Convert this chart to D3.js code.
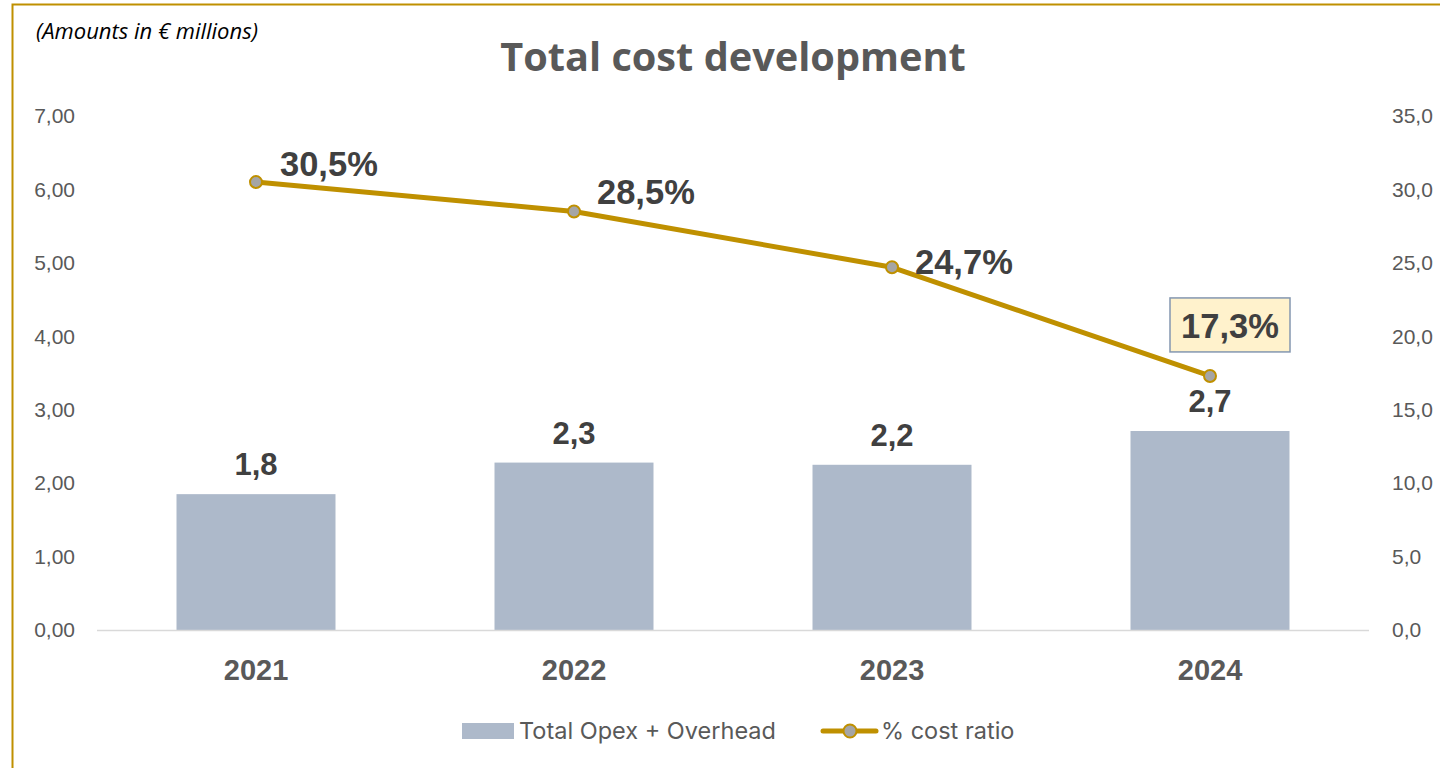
<!DOCTYPE html>
<html>
<head>
<meta charset="utf-8">
<script src="https://cdn.jsdelivr.net/npm/d3@7"></script>
<style>
  body { margin: 0; background: #fff; }
  svg { display: block; }
</style>
</head>
<body>
<script>
// chart data
var years = ["2021", "2022", "2023", "2024"];
var opex = [1.85, 2.28, 2.25, 2.71];
var opexLabels = ["1,8", "2,3", "2,2", "2,7"];
var costRatio = [30.5, 28.5, 24.7, 17.3];
var ratioLabels = ["30,5%", "28,5%", "24,7%", "17,3%"];
var leftTicks = [0, 1, 2, 3, 4, 5, 6, 7];
var rightTicks = [0, 5, 10, 15, 20, 25, 30, 35];

var width = 1440,
    height = 768;

var gold = "#BF9000",
    barColor = "#ADB9CA",
    textGray = "#595959",
    labelDark = "#404040";

var svg = d3.select("body").append("svg")
    .attr("width", width)
    .attr("height", height);

// outer border (right and bottom run off the picture)
svg.append("rect")
    .attr("x", 12.5).attr("y", 4.5)
    .attr("width", 1460).attr("height", 800)
    .attr("fill", "none")
    .attr("stroke", gold)
    .attr("stroke-width", 2);

svg.append("text")
    .attr("x", 36).attr("y", 39)
    .attr("font-family", "'Open Sans', sans-serif")
    .attr("font-style", "italic")
    .attr("font-size", 22)
    .attr("fill", "#000")
    .text("(Amounts in € millions)");

svg.append("text")
    .attr("x", 733).attr("y", 71)
    .attr("text-anchor", "middle")
    .attr("font-family", "'Open Sans', sans-serif")
    .attr("font-weight", "bold")
    .attr("font-size", 39.7)
    .attr("fill", textGray)
    .text("Total cost development");

var x = d3.scaleBand().domain(years).range([97, 1369]).paddingInner(0.5).paddingOuter(0.25);
var yL = d3.scaleLinear().domain([0, 7]).range([630, 116]);
var yR = d3.scaleLinear().domain([0, 35]).range([630, 116]);

// left axis
var leftAxis = svg.append("g")
    .attr("transform", "translate(75,0)")
    .call(d3.axisLeft(yL).tickValues(leftTicks).tickSize(0).tickPadding(0)
        .tickFormat(function(d) { return d3.format(".2f")(d).replace(".", ","); }));
leftAxis.select(".domain").remove();
leftAxis.selectAll("text")
    .attr("font-family", "'Liberation Sans', Arial, sans-serif")
    .attr("font-size", 21)
    .attr("fill", textGray);

// right axis
var rightAxis = svg.append("g")
    .attr("transform", "translate(1392,0)")
    .call(d3.axisRight(yR).tickValues(rightTicks).tickSize(0).tickPadding(0)
        .tickFormat(function(d) { return d3.format(".1f")(d).replace(".", ","); }));
rightAxis.select(".domain").remove();
rightAxis.selectAll("text")
    .attr("font-family", "'Liberation Sans', Arial, sans-serif")
    .attr("font-size", 21)
    .attr("fill", textGray);

// bars
svg.append("g").selectAll("rect")
    .data(opex)
    .enter().append("rect")
    .attr("x", function(d, i) { return x(years[i]); })
    .attr("y", function(d) { return yL(d); })
    .attr("width", x.bandwidth())
    .attr("height", function(d) { return yL(0) - yL(d); })
    .attr("fill", barColor);

// baseline
svg.append("line")
    .attr("x1", 97).attr("x2", 1369)
    .attr("y1", yL(0) + 0.5).attr("y2", yL(0) + 0.5)
    .attr("stroke", "#D9D9D9")
    .attr("stroke-width", 1.5);

// year labels
var bottomAxis = svg.append("g")
    .attr("transform", "translate(0," + yL(0) + ")")
    .call(d3.axisBottom(x).tickSize(0).tickPadding(29));
bottomAxis.select(".domain").remove();
bottomAxis.selectAll("text")
    .attr("font-family", "'Liberation Sans', Arial, sans-serif")
    .attr("font-weight", "bold")
    .attr("font-size", 29)
    .attr("fill", textGray);

// bar value labels
svg.append("g").selectAll("text")
    .data(opex)
    .enter().append("text")
    .attr("x", function(d, i) { return x(years[i]) + x.bandwidth() / 2; })
    .attr("y", function(d) { return yL(d) - 19; })
    .attr("text-anchor", "middle")
    .attr("font-family", "'Liberation Sans', Arial, sans-serif")
    .attr("font-weight", "bold")
    .attr("font-size", 31)
    .attr("fill", labelDark)
    .text(function(d, i) { return opexLabels[i]; });

// ratio line
var cx = function(i) { return x(years[i]) + x.bandwidth() / 2; };
var line = d3.line()
    .x(function(d, i) { return cx(i); })
    .y(function(d) { return yR(d); });

svg.append("path")
    .datum(costRatio)
    .attr("d", line)
    .attr("fill", "none")
    .attr("stroke", gold)
    .attr("stroke-width", 5)
    .attr("stroke-linejoin", "round");

svg.append("g").selectAll("circle")
    .data(costRatio)
    .enter().append("circle")
    .attr("cx", function(d, i) { return cx(i); })
    .attr("cy", function(d) { return yR(d); })
    .attr("r", 6)
    .attr("fill", "#A5A5A5")
    .attr("stroke", gold)
    .attr("stroke-width", 2);

// ratio labels: first three to the right, last one boxed above
var labelDx = [24, 23, 23, 20],
    labelDy = [-6, -7, 7, -38];

var last = costRatio.length - 1;
svg.append("rect")
    .attr("x", cx(last) - 40).attr("y", yR(costRatio[last]) - 78)
    .attr("width", 120).attr("height", 54)
    .attr("fill", "#FFF2CC")
    .attr("stroke", "#8497B0")
    .attr("stroke-width", 1.5);

svg.append("g").selectAll("text")
    .data(costRatio)
    .enter().append("text")
    .attr("x", function(d, i) { return cx(i) + labelDx[i]; })
    .attr("y", function(d, i) { return yR(d) + labelDy[i]; })
    .attr("text-anchor", function(d, i) { return i == last ? "middle" : "start"; })
    .attr("font-family", "'Liberation Sans', Arial, sans-serif")
    .attr("font-weight", "bold")
    .attr("font-size", 34.5)
    .attr("fill", labelDark)
    .text(function(d, i) { return ratioLabels[i]; });

// legend
var legend = svg.append("g");
legend.append("rect")
    .attr("x", 462).attr("y", 723)
    .attr("width", 52).attr("height", 16)
    .attr("fill", barColor);
legend.append("text")
    .attr("x", 519).attr("y", 739)
    .attr("font-family", "Inter, 'Noto Sans', sans-serif")
    .attr("font-size", 23.5)
    .attr("fill", textGray)
    .text("Total Opex + Overhead");
legend.append("line")
    .attr("x1", 823).attr("x2", 876)
    .attr("y1", 731).attr("y2", 731)
    .attr("stroke", gold)
    .attr("stroke-width", 5)
    .attr("stroke-linecap", "round");
legend.append("circle")
    .attr("cx", 850).attr("cy", 731)
    .attr("r", 6.5)
    .attr("fill", "#A5A5A5")
    .attr("stroke", gold)
    .attr("stroke-width", 2);
legend.append("text")
    .attr("x", 881).attr("y", 739)
    .attr("font-family", "Inter, 'Noto Sans', sans-serif")
    .attr("font-size", 23.5)
    .attr("fill", textGray)
    .text("% cost ratio");
</script>
</body>
</html>
